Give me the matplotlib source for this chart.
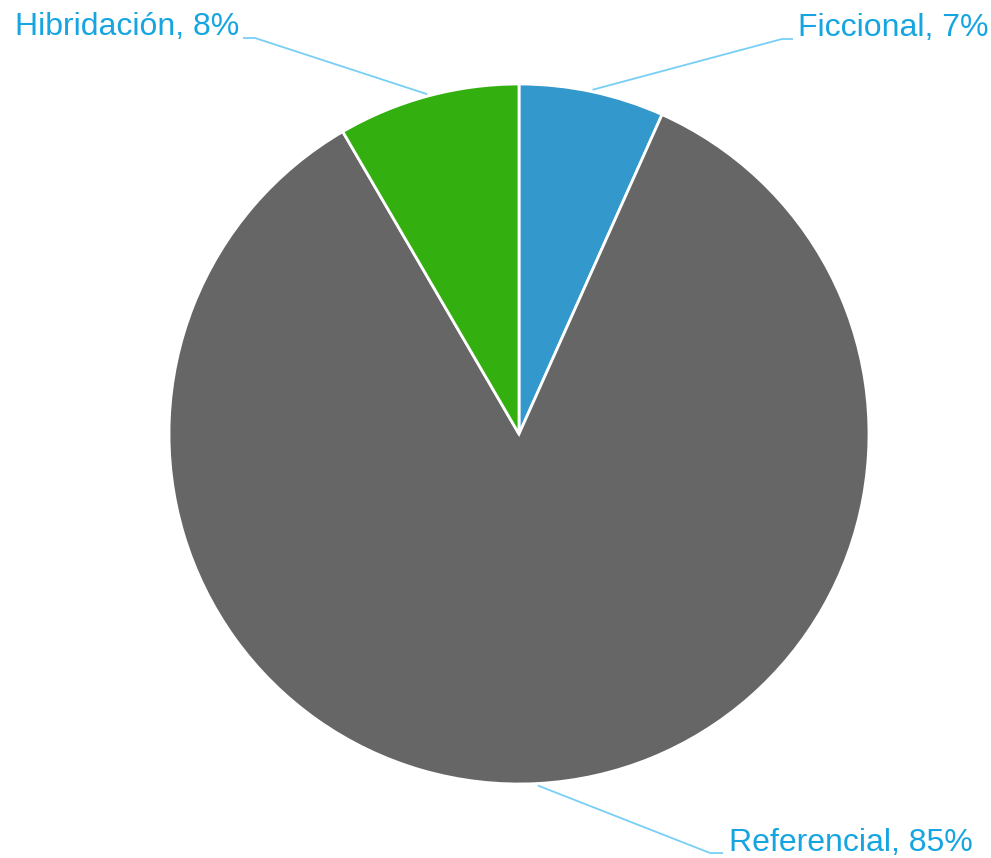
import matplotlib.pyplot as plt
import numpy as np

# data
categories = ['Ficcional', 'Referencial', 'Hibridación']
values = [6.7, 84.9, 8.4]
colors = ['#3399cc', '#666666', '#33b00f']

W, H = 991, 858
fig = plt.figure(figsize=(W / 100, H / 100), dpi=100)
ax = fig.add_axes([0, 0, 1, 1])
ax.set_xlim(0, W)
ax.set_ylim(0, H)
ax.set_aspect('equal')
ax.axis('off')

cx, cy, r = 519, H - 434, 350
wedges, _ = ax.pie(values, colors=colors, startangle=90, counterclock=False,
                   radius=r, center=(cx, cy),
                   wedgeprops=dict(edgecolor='white', linewidth=2))
ax.set_xlim(0, W)
ax.set_ylim(0, H)

total = sum(values)
text_col = '#16a5e0'
line_col = '#78cff5'

# elbow / text placement (pixels, y from top)
layout = [
    dict(elbow=(782, 39), end=(793, 39), text=(798, 28), ha='left'),
    dict(elbow=(710, 853), end=(723, 853), text=(729, 843), ha='left'),
    dict(elbow=(255, 38), end=(243, 38), text=(239, 27), ha='right'),
]

for w, name, v, lay in zip(wedges, categories, values, layout):
    mid = np.deg2rad((w.theta1 + w.theta2) / 2)
    px = cx + (r + 2) * np.cos(mid)
    py = cy + (r + 2) * np.sin(mid)
    ex, ey = lay['elbow']
    tx, ty = lay['end']
    ax.plot([px, ex, tx], [py, H - ey, H - ty], color=line_col, lw=1.3,
            solid_capstyle='butt')
    pct = round(v / total * 100)
    ax.text(lay['text'][0], H - lay['text'][1], f'{name}, {pct}%',
            ha=lay['ha'], va='center', color=text_col, fontsize=23,
            family='Liberation Sans')

fig.savefig('out.png', dpi=100)
